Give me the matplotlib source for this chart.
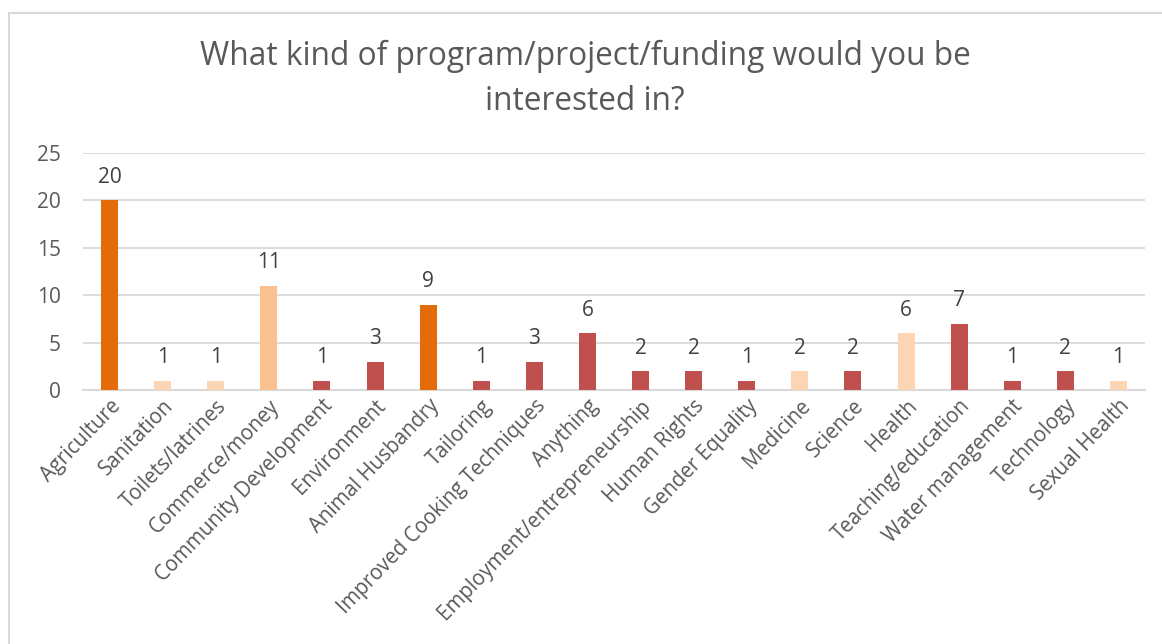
import matplotlib
matplotlib.use("Agg")
import matplotlib.pyplot as plt
from matplotlib.patches import Rectangle

categories = [
    "Agriculture", "Sanitation", "Toilets/latrines", "Commerce/money",
    "Community Development", "Environment", "Animal Husbandry", "Tailoring",
    "Improved Cooking Techniques", "Anything", "Employment/entrepreneurship",
    "Human Rights", "Gender Equality", "Medicine", "Science", "Health",
    "Teaching/education", "Water management", "Technology", "Sexual Health",
]
values = [20, 1, 1, 11, 1, 3, 9, 1, 3, 6, 2, 2, 1, 2, 2, 6, 7, 1, 2, 1]
bar_colors = [
    "#E36C09", "#FCD5B4", "#FCD5B4", "#FAC090", "#C0504D", "#C0504D",
    "#E36C09", "#C0504D", "#C0504D", "#C0504D", "#C0504D", "#C0504D",
    "#C0504D", "#FCD5B4", "#C0504D", "#FCD5B4", "#C0504D", "#C0504D",
    "#C0504D", "#FCD5B4",
]
y_ticks = [0, 5, 10, 15, 20, 25]
title = "What kind of program/project/funding would you be\ninterested in?"

plt.rcParams["font.family"] = ["Open Sans", "DejaVu Sans"]
text_color = "#595959"
grid_color = "#D9D9D9"

W, H = 1162, 644
fig = plt.figure(figsize=(W / 100, H / 100), dpi=100)
fig.patch.set_facecolor("white")

# chart frame (light gray border)
fig.add_artist(Rectangle((8.5 / W, -0.05), 1.2, 1 - 12.5 / H + 0.05,
                         transform=fig.transFigure, fill=False,
                         edgecolor=grid_color, linewidth=1.5))

ax = fig.add_axes([83 / W, 1 - 390 / H, (1145 - 83) / W, (390 - 153) / H])
x = list(range(len(categories)))
bars = ax.bar(x, values, width=0.32, color=bar_colors, zorder=3)

ax.set_xlim(-0.5, len(categories) - 0.5)
ax.set_ylim(0, 25)
ax.set_yticks(y_ticks)
ax.set_yticklabels([str(t) for t in y_ticks], fontsize=15, color=text_color)
ax.tick_params(axis="y", length=0, pad=16)
ax.tick_params(axis="x", length=0, pad=4)
ax.yaxis.grid(True, color=grid_color, linewidth=1.3, zorder=0)
for s in ["left", "right", "top"]:
    ax.spines[s].set_visible(False)
ax.spines["bottom"].set_color(grid_color)
ax.spines["bottom"].set_linewidth(1.5)

ax.set_xticks(x)
ax.set_xticklabels(categories, rotation=46, ha="right", rotation_mode="anchor",
                   fontsize=14.8, color=text_color)

for xi, v in zip(x, values):
    ax.annotate(str(v), (xi, v), xytext=(0, 9), textcoords="offset points",
                ha="center", va="bottom", fontsize=15, color="#404040")

fig.text(0.5 + 8 / W / 2, 1 - 79 / H, title, ha="center", va="center",
         fontsize=22.8, color=text_color, linespacing=1.45)

fig.savefig("out.png", dpi=100, facecolor="white")
